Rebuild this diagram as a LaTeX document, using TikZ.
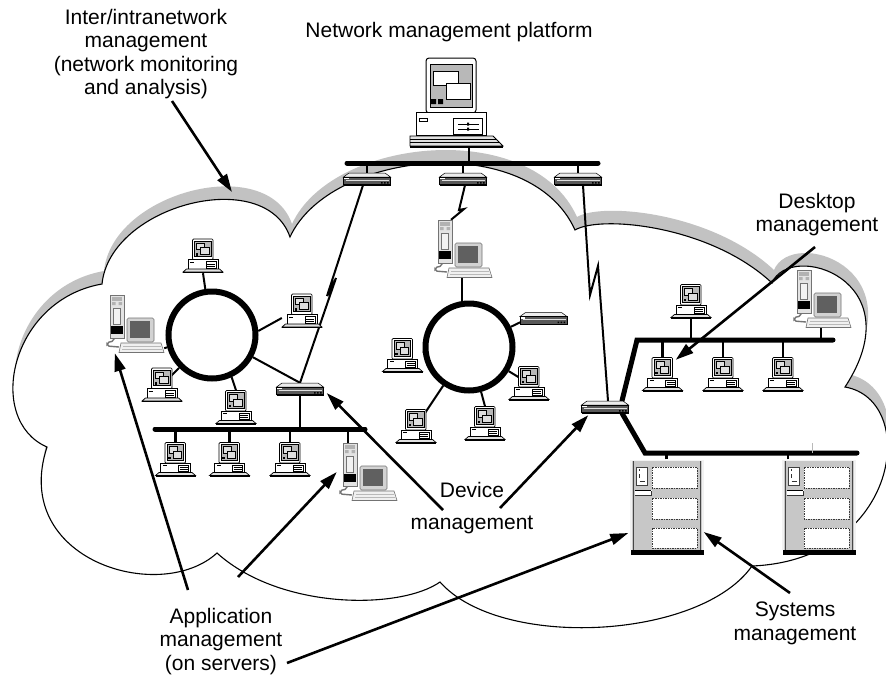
\documentclass[tikz,border=0pt]{standalone}
\usepackage{fontspec}
\setmainfont{Liberation Sans}
\usetikzlibrary{arrows.meta,calc}

\definecolor{cloudshade}{gray}{0.76}
\definecolor{screengray}{gray}{0.72}
\definecolor{panelgray}{gray}{0.78}
\definecolor{edgegray}{gray}{0.45}
\definecolor{keygray}{gray}{0.88}

\pgfdeclarelayer{cloudlayer}
\pgfdeclarelayer{wirelayer}
\pgfdeclarelayer{front}
\pgfsetlayers{cloudlayer,wirelayer,main,front}

% outline of the network cloud
\newcommand\cloudoutline{(102,284) .. controls (110,205) and (265,165) .. (290,237)
  .. controls (330,150) and (530,130) .. (575,230)
  .. controls (600,215) and (710,225) .. (772,283)
  .. controls (790,240) and (915,280) .. (845,387)
  .. controls (920,400) and (900,560) .. (752,566)
  .. controls (700,640) and (500,650) .. (440,582)
  .. controls (400,610) and (280,610) .. (217,553)
  .. controls (160,605) and (10,560) .. (47,447)
  .. controls (-15,420) and (10,300) .. (102,284) -- cycle}

\tikzset{
  % desktop PC
  pcicon/.pic={
    \draw[line width=0.7pt,fill=white,rounded corners=1pt] (-10.5,-17) rectangle (10,3.5);
    \draw[line width=0.5pt,fill=screengray] (-8.5,-15) rectangle (8,0.5);
    \draw[line width=0.5pt,fill=white!55!screengray] (-6.5,-13) rectangle (1.5,-6.5);
    \draw[line width=0.5pt,fill=white!55!screengray] (-2.5,-8.5) rectangle (6,-1.5);
    \fill (-7.5,-3) rectangle (-5,-0.5);
    \draw[line width=0.7pt,fill=white] (-15,3.5) rectangle (15,13);
    \fill (-13,5.8) rectangle (-9,6.8);
    \draw[line width=0.5pt] (3,5.5) rectangle (13,12);
    \draw[line width=0.4pt] (4,7.7) -- (12,7.7) (4,9.9) -- (12,9.9);
    \draw[line width=0.7pt,fill=keygray] (-16.5,13) -- (16.5,13) -- (20,16) -- (-20,16) -- cycle;
    \draw[line width=1.3pt] (-20,16.6) -- (20,16.6);
    \node[inner sep=0pt,minimum width=40pt,minimum height=34pt] (-box) {};
  },
  % tower server with monitor
  towericon/.pic={
    \draw[edgegray,line width=1.4pt,rounded corners=2pt] (-20,14) -- (-20,17) -- (-27,18.5) -- (-27,22) -- (-15,23);
    \draw[edgegray,line width=0.6pt,fill=gray!22] (-24,-29) rectangle (-10,14);
    \fill[gray!60] (-22,-27) rectangle (-12,-23.5);
    \fill[gray!60] (-22,-22) rectangle (-18.5,-19) (-15.5,-22) rectangle (-12,-19);
    \draw[edgegray,line width=0.4pt,fill=white!90!gray] (-20.5,-16) rectangle (-13.5,0);
    \fill[black] (-23,2) rectangle (-11,10);
    \draw[edgegray,line width=0.6pt,fill=gray!35,rounded corners=1.5pt] (-7,-6) rectangle (20,18);
    \fill[gray!75!black] (-4,-3) rectangle (16,13.5);
    \draw[edgegray,line width=0.6pt,fill=gray!12] (-13,19) -- (27,19) -- (30,28.5) -- (-15,28.5) -- cycle;
    \draw[gray!55,line width=0.7pt] (-11,22) -- (27,22) (-12,25) -- (28,25);
    \node[inner sep=0pt,minimum width=60pt,minimum height=58pt] (-box) {};
  },
  % router / hub
  routericon/.pic={
    \draw[line width=0.5pt,fill=gray!15] (-18,-6) -- (18,-6) -- (23.5,-2) -- (-23.5,-2) -- cycle;
    \draw[line width=0.5pt,fill=gray!70!black] (-23.5,-2) rectangle (23.5,5.5);
    \draw[white!75!gray,line width=0.7pt] (-21,1.2) -- (22,1.2);
    \fill[white] (-23,-1.3) rectangle (-18.5,0.2);
    \fill[black] (14,3) rectangle (15.5,4.5) (17,3) rectangle (18.5,4.5) (20,3) rectangle (21.5,4.5);
    \draw[line width=1pt] (-23.5,6) -- (23.5,6);
    \node[inner sep=0pt,minimum width=47pt,minimum height=12pt] (-box) {};
  },
  % floor-standing server cabinet
  servericon/.pic={
    \fill[gray!10] (-37,-47.5) rectangle (37,43);
    \fill[panelgray] (-35,-46) rectangle (35,43);
    \draw[gray!55!black,line width=1pt] (-33.5,-46) -- (-33.5,43) (33.5,-46) -- (33.5,43);
    \foreach \ya/\yb in {-40/-19,-9/12,21/41}{
      \fill[white] (-14.5,\ya) rectangle (30.5,\yb);
      \draw[gray!45!black,line width=0.5pt,dash pattern=on 1.5pt off 1pt] (-14.5,\ya) rectangle (30.5,\yb);
    }
    \draw[gray!50!black,line width=0.4pt,fill=white] (-30,-40) rectangle (-19,-22);
    \draw[gray!40!black,line width=0.5pt] (-27,-38) -- (-27,-36) (-27,-33) -- (-27,-29) (-27,-26) -- (-22,-26);
    \fill[white] (-32,-17) rectangle (-15,-12);
    \draw[line width=0.8pt] (-32,-17) -- (-16,-17);
    \draw[gray!40!black,line width=0.4pt] (-32,-12) -- (-15,-12) -- (-15,-16);
    \fill[black] (-36,42.5) rectangle (37,48);
    \node[inner sep=0pt,minimum width=74pt,minimum height=95pt] (-box) {};
  },
  % management workstation
  stationicon/.pic={
    \draw[line width=1pt,fill=white,rounded corners=3pt] (-30,-44) rectangle (20,11);
    \draw[line width=0.7pt,fill=screengray] (-26,-38) rectangle (16,5);
    \draw[line width=0.8pt,fill=white] (-22.5,-31) rectangle (2,-17);
    \draw[line width=0.8pt,fill=white] (-10,-19) rectangle (14.5,-3);
    \fill (-25,-3) rectangle (-20,2) (-18,-3) rectangle (-13,2);
    \draw[line width=1pt,fill=white] (-40,10) rectangle (30,33);
    \draw[line width=0.6pt] (-37,16.5) rectangle (-29,19.5);
    \draw[line width=0.8pt] (-3,16) rectangle (26,32);
    \draw[line width=0.8pt] (2,22) -- (23,22) (2,27) -- (23,27);
    \fill (11,20.5) rectangle (13,23.5) (11,25.5) rectangle (13,28.5);
    \draw[line width=0.8pt,fill=keygray] (-46,34) -- (37,34) -- (47,44) -- (-46,44) -- cycle;
    \draw[line width=0.5pt] (-46,37) -- (40,37) (-46,40.5) -- (43.5,40.5);
    \draw[line width=1.6pt] (-46,45) -- (47,45);
    \node[inner sep=0pt,minimum width=94pt,minimum height=90pt] at (0.5,0) (-box) {};
  }
}

\begin{document}
\begin{tikzpicture}[x=1pt,y=-1pt,
  lbltext/.style={align=center,inner sep=0pt,font=\fontsize{21}{23.5}\selectfont},
  link/.style={line width=2pt},
  droplink/.style={line width=2.3pt},
  busline/.style={line width=5pt,line cap=round},
  ringnode/.style={circle,draw,line width=6pt,minimum size=87pt,inner sep=0pt},
  callout/.style={line width=2.6pt,-{Triangle[length=18pt,width=11pt]}}]
\useasboundingbox (0,0) rectangle (886,675);

% ---- cloud with its grey rim
\begin{pgfonlayer}{cloudlayer}
  \begin{scope}[shift={(2,-13)}]
    \fill[cloudshade] \cloudoutline;
  \end{scope}
  \filldraw[fill=white,draw=black,line width=1.1pt] \cloudoutline;
\end{pgfonlayer}

% ---- equipment
\pic (nmp) at (456,102) {stationicon};
\pic (h1) at (367,179) {routericon};
\pic (h2) at (463,179) {routericon};
\pic (h3) at (578,179) {routericon};
\pic (r1) at (300,389) {routericon};
\pic (r3) at (605,407) {routericon};
\pic (mr) at (543.5,318.5) {routericon};

\pic (lp1) at (203,256) {pcicon};
\pic (lp2) at (302,311) {pcicon};
\pic (lt) at (134,324) {towericon};
\pic (lp3) at (162,385) {pcicon};
\pic (lp4) at (236,407.5) {pcicon};

\pic (lb1) at (175.5,459.5) {pcicon};
\pic (lb2) at (229.5,459.5) {pcicon};
\pic (lb3) at (290,459.5) {pcicon};
\pic (bt) at (367,472) {towericon};

\pic (mt) at (462,249) {towericon};
\pic (mp1) at (402.5,355.5) {pcicon};
\pic (mp2) at (416,426.5) {pcicon};
\pic (mp3) at (485,423.5) {pcicon};
\pic (mp4) at (529,383.5) {pcicon};

\pic (rp4) at (691,301.5) {pcicon};
\pic (rt) at (821,299) {towericon};
\pic (rp1) at (662.5,374.5) {pcicon};
\pic (rp2) at (723,374.5) {pcicon};
\pic (rp3) at (783,374.5) {pcicon};

\pic (s1) at (666.5,507) {servericon};
\pic (s2) at (818.5,507) {servericon};

% token rings
\node[ringnode] (ringL) at (212,335) {};
\node[ringnode] (ringM) at (469,347) {};

% bus end points
\coordinate (tbw) at (347,163);  \coordinate (tbe) at (598,163);
\coordinate (lbw) at (155,429);  \coordinate (lbe) at (365,429);
\coordinate (urbw) at (637,340); \coordinate (urbe) at (833,340);
\coordinate (lrbw) at (645,453); \coordinate (lrbe) at (857,453);
\coordinate (nmpport) at ($(nmp-box.south)+(12.5,0)$);
\coordinate (btport) at ($(bt-box.north)+(-19,0)$);
\coordinate (s2port) at ($(s2-box.north)+(-30.5,0)$);
\coordinate (tick) at ($(lrbw)!0.79!(lrbe)$);

% ---- cabling
\begin{pgfonlayer}{wirelayer}
  \draw[busline] (tbw) -- (tbe);
  \draw[droplink] (nmpport) -- (nmpport |- tbw);
  \foreach \h in {h1,h2,h3} \draw[droplink] (\h-box.north) -- (\h-box.north |- tbw);

  % wide-area links
  \draw[link] ($(h1-box.south)+(-4,0)$) -- (327,296) -- (336,278) -- (r1-box.north);
  \draw[link] ($(h2-box.south)+(2,0)$) -- (459,210) -- (464,209) -- ($(mt-box.north)+(-11,0)$);
  \draw[link] ($(h3-box.south)+(5,0)$) -- (590,295) -- (598,266) -- ($(r3-box.north)+(3,0)$);

  % left ring
  \draw[link] (lp1-box.south) -- (ringL);
  \draw[link] (ringL.5) -- ($(lp2-box.west)+(0,7)$);
  \draw[link] ($(lt-box.south east)+(0,-5)$) -- (ringL);
  \draw[link] (lp3-box.center) -- (ringL);
  \draw[link] (ringL.-65) -- (lp4-box.north);
  \draw[link] (ringL) -- (r1-box.north);

  % lower left bus
  \draw[busline] (lbw) -- (lbe);
  \draw[droplink] (r1-box.south) -- (r1-box.south |- lbw);
  \foreach \p in {lb1,lb2,lb3} \draw[droplink] (\p-box.north) -- (\p-box.north |- lbw);
  \draw[droplink] (btport) -- (btport |- lbw);

  % middle ring
  \draw[link] (mt-box.south) -- (mt-box.south |- ringM.north);
  \draw[link] ($(mp1-box.east)+(0,-3)$) -- (ringM);
  \draw[link] (mp2-box.center) -- (ringM);
  \draw[link] (mp3-box.north) -- (ringM);
  \draw[link] (mp4-box.center) -- (ringM);
  \draw[link] (ringM) -- ($(mr-box.west)+(2,3)$);

  % right-hand buses
  \draw[busline] ($(r3-box.north)+(17,0)$) -- (urbw) -- (urbe);
  \draw[busline] ($(r3-box.south)+(17,0)$) -- (lrbw) -- (lrbe);
  \foreach \p in {rp1,rp2,rp3} \draw[droplink] (\p-box.north) -- (\p-box.north |- urbw);
  \draw[droplink] (rp4-box.south) -- (rp4-box.south |- urbw);
  \draw[droplink] (rt-box.south) -- (rt-box.south |- urbw);
  \draw[droplink] (s1-box.north) -- (s1-box.north |- lrbw);
  \draw[droplink] (s2port) -- (s2port |- lrbw);
  \draw[gray!55,line width=1.5pt] (tick) -- ++(0,-10);
\end{pgfonlayer}

% ---- labels and callouts
\begin{pgfonlayer}{front}
  \node[lbltext,anchor=north] (intertxt) at (146,9) {Inter/intranetwork\\management\\(network monitoring\\and analysis)};
  \node[lbltext,anchor=base] (nmptxt) at (449,37) {Network management platform};
  \node[lbltext,anchor=north] (desktxt) at (817,193) {Desktop\\management};
  \node[lbltext,anchor=north] (devtxt) at (472,482) {Device\\[8.5pt]management};
  \node[lbltext,anchor=north] (apptxt) at (221,608) {Application\\management\\(on servers)};
  \node[lbltext,anchor=north] (systxt) at (795,602) {Systems\\management};

  \coordinate (interfrom) at (172,101);
  \coordinate (cloudtip) at (232,192);
  \coordinate (deskfrom) at (815,247);
  \coordinate (devfromA) at (443,510);
  \coordinate (devfromB) at (500,508);
  \coordinate (appfromA) at (188,590);
  \coordinate (appfromB) at (238,577);
  \coordinate (appfromC) at (287,663);
  \coordinate (sysfrom) at (790,593);

  \draw[callout] (interfrom) -- (cloudtip);
  \draw[callout] (deskfrom) -- ($(rp1-box.north east)+(-7,2.5)$);
  \draw[callout] (devfromA) -- ($(r1-box.east)+(3,4)$);
  \draw[callout] (devfromB) -- ($(r3-box.south west)+(7,2)$);
  \draw[callout] (appfromA) -- ($(lt-box.south west)+(11,0)$);
  \draw[callout] (appfromB) -- (bt-box.west);
  \draw[callout] (appfromC) -- ($(s1-box.west)+(-1,26)$);
  \draw[callout] (sysfrom) -- ($(s1-box.east)+(0,25)$);
\end{pgfonlayer}
\end{tikzpicture}
\end{document}
